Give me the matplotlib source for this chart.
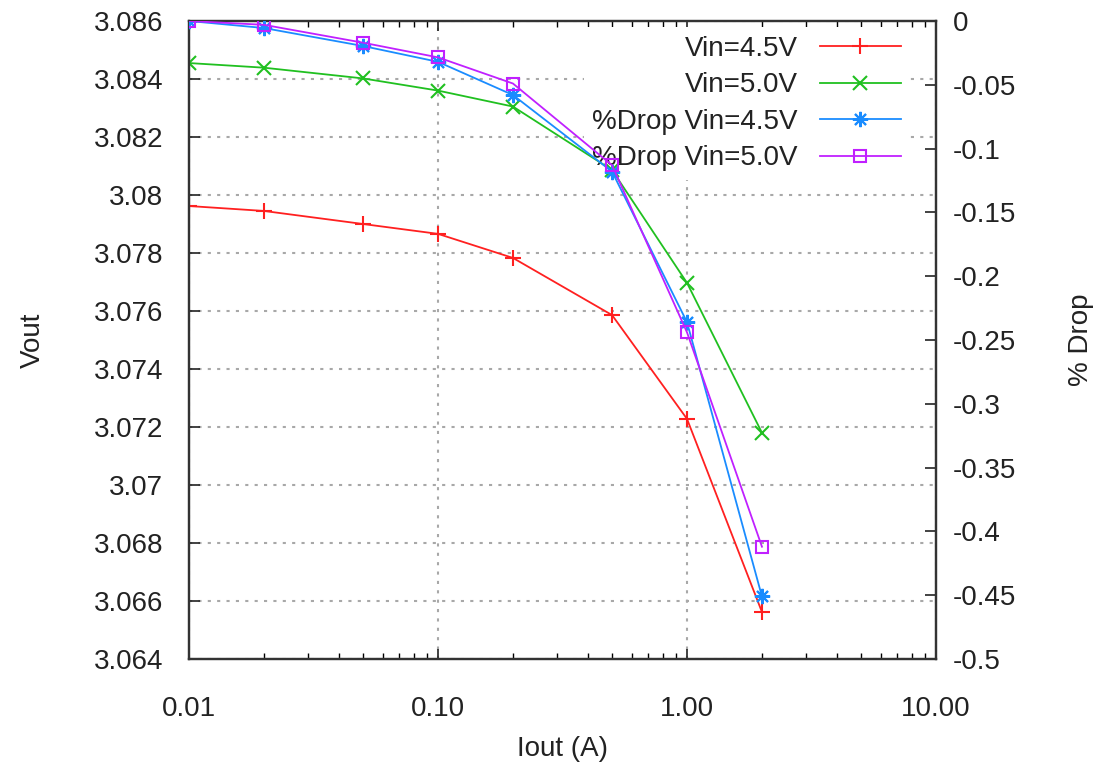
import matplotlib
matplotlib.use("Agg")
import matplotlib.pyplot as plt
from matplotlib.ticker import FixedLocator, LogLocator, NullFormatter, FuncFormatter

iout = [0.01, 0.02, 0.05, 0.1, 0.2, 0.5, 1.0, 2.0]
vout_45 = [3.07962, 3.07945, 3.0790, 3.07866, 3.07783, 3.07586, 3.07228, 3.06562]
vout_50 = [3.08455, 3.08439, 3.08402, 3.0836, 3.08305, 3.08086, 3.07697, 3.0718]
drop_45 = [0.0, -0.0055, -0.0196, -0.032, -0.058, -0.118, -0.236, -0.451]
drop_50 = [0.0, -0.003, -0.017, -0.0285, -0.049, -0.113, -0.244, -0.412]

labels = ["Vin=4.5V", "Vin=5.0V", "%Drop Vin=4.5V", "%Drop Vin=5.0V"]
xticks = [0.01, 0.1, 1.0, 10.0]
yticks_left = [3.064 + 0.002 * i for i in range(12)]
yticks_right = [-0.5 + 0.05 * i for i in range(11)]

FONT = "Liberation Sans"
FS = 20
plt.rcParams["font.family"] = [FONT, "DejaVu Sans"]

fig = plt.figure(figsize=(10.95, 7.67), dpi=100)
ax = fig.add_axes([189 / 1095, 1 - 659 / 767, (936 - 189) / 1095, (659 - 21) / 767])
ax2 = ax.twinx()

c_red, c_green, c_blue, c_mag = "#ff2020", "#20c020", "#1a8cff", "#c020ff"
lw = 1.3
l1, = ax.plot(iout, vout_45, color=c_red, marker="+", ms=12, mew=1.5, lw=lw, zorder=3)
l2, = ax.plot(iout, vout_50, color=c_green, marker="x", ms=10, mew=1.5, lw=lw, zorder=3)
l3, = ax2.plot(iout, drop_45, color=c_blue, marker=(8, 2, 0), ms=11, mew=1.5, lw=lw, zorder=3)
l4, = ax2.plot(iout, drop_50, color=c_mag, marker="s", ms=9, mfc="none", mew=1.5, lw=lw, zorder=3)

ax.set_xscale("log")
ax.set_xlim(0.01, 10)
ax.set_ylim(3.064, 3.086)
ax2.set_ylim(-0.5, 0)


def fmt_left(v, p):
    return ("%.3f" % v).rstrip("0").rstrip(".")


def fmt_right(v, p):
    if abs(v) < 1e-9:
        return "0"
    return ("%.2f" % v).rstrip("0").rstrip(".")


ax.xaxis.set_major_locator(FixedLocator(xticks))
ax.xaxis.set_minor_locator(LogLocator(base=10, subs=range(2, 10)))
ax.xaxis.set_minor_formatter(NullFormatter())
ax.xaxis.set_major_formatter(FuncFormatter(lambda v, p: "%.2f" % v))
ax.yaxis.set_major_locator(FixedLocator(yticks_left))
ax.yaxis.set_major_formatter(FuncFormatter(fmt_left))
ax2.yaxis.set_major_locator(FixedLocator(yticks_right))
ax2.yaxis.set_major_formatter(FuncFormatter(fmt_right))

ax.tick_params(axis="x", which="major", direction="in", length=7, width=1.2, top=True,
               labelsize=FS, pad=26.5, colors="#222222")
ax.tick_params(axis="x", which="minor", direction="in", length=4, width=1.0, top=True)
ax.tick_params(axis="y", which="major", direction="in", length=8, width=1.2,
               labelsize=FS, pad=18.5, colors="#222222")
ax2.tick_params(axis="y", which="major", direction="in", length=8, width=1.2,
                labelsize=FS, pad=12, colors="#222222")

for a in (ax, ax2):
    for s in a.spines.values():
        s.set_linewidth(1.6)
        s.set_color("#333333")

ax.grid(True, which="major", linestyle=(0, (1.5, 3)), color="#a8a8a8", linewidth=1.5)
ax.set_axisbelow(True)

ax.set_xlabel("Iout (A)", fontsize=FS, labelpad=10, color="#222222")
ax.set_ylabel("Vout", fontsize=FS, color="#222222")
ax.yaxis.set_label_coords(-0.191, 0.5)
ax2.set_ylabel("% Drop", fontsize=FS, color="#222222")
ax2.yaxis.set_label_coords(1.177, 0.5)

leg = ax.legend([l1, l2, l3, l4], labels, loc="upper right", bbox_to_anchor=(0.964, 0.99),
                markerfirst=False, fontsize=FS, frameon=True, framealpha=1.0,
                facecolor="white", edgecolor="none", fancybox=False,
                handlelength=2.9, handletextpad=0.8, labelspacing=0.38,
                borderpad=0.3, borderaxespad=0.0)
leg.set_zorder(1.5)
for t in leg.get_texts():
    t.set_color("#222222")

fig.savefig("out.png", dpi=100)
